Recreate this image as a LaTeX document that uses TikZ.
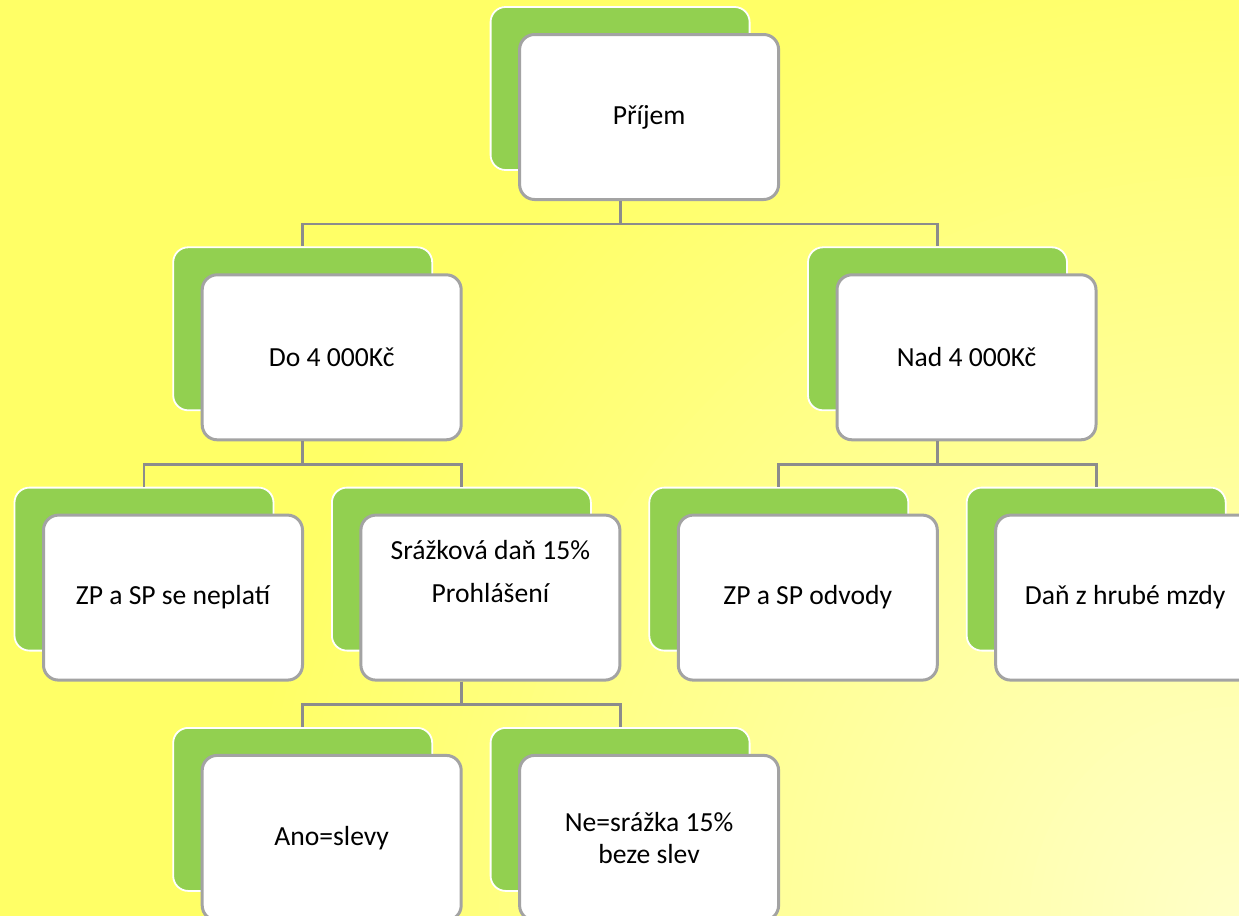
\documentclass[tikz,border=0pt]{standalone}
\usepackage{fontspec}
\setmainfont{Carlito}
\usetikzlibrary{calc}

\definecolor{bgbright}{RGB}{255,255,102}
\definecolor{bgpale}{RGB}{255,255,200}
\definecolor{leafgreen}{RGB}{146,208,80}
\definecolor{rimgray}{RGB}{163,163,163}
\definecolor{wiregray}{RGB}{140,140,140}

\begin{document}
\begin{tikzpicture}[x=0.5pt,y=-0.5pt,
        back/.style={draw=white,line width=0.9pt,fill=leafgreen,rounded corners=7.5pt,
            minimum width=129.5pt,minimum height=81.5pt,inner sep=0pt},
        card/.style={draw=rimgray,line width=1.5pt,fill=white,rounded corners=7.5pt,
            minimum width=129.5pt,minimum height=82.5pt,inner sep=0pt,align=center,
            font=\fontsize{13.8}{16}\selectfont},
        wire/.style={draw=wiregray,line width=1.4pt}]
                % background
                \useasboundingbox (0,0) rectangle (1239,916);
                \fill[bgbright] (0,0) rectangle (1239,916);
                \begin{scope}
                    \clip (0,0) rectangle (1239,916);
                    \foreach \i [evaluate=\i as \r using 1000-10.4*\i, evaluate=\i as \p using 1.04*\i] in {0,...,95}
                        {
                            \fill[bgpale!\p!bgbright] (1239,916) circle (\r);
                        }
                \end{scope}

                % boxes: name/column/row/text
                \foreach \nm/\cx/\ry/\txt in {top/3/0/Příjem, low/1/1/Do 4 000Kč, high/5/1/Nad 4 000Kč,
                        nopay/0/2/ZP a SP se neplatí,
                        wht/2/2/{Srážková daň 15\%\\[5.5pt]Prohlášení\\[5.5pt]\strut},
                        pay/4/2/ZP a SP odvody, gross/6/2/Daň z hrubé mzdy,
                        yes/1/3/Ano=slevy, no/3/3/{Ne=srážka 15\%\\beze slev}}
                    {
                        \node[back] (g-\nm) at ({144+158.7*\cx},{88.5+240.3*\ry}){};
                        \node[card] (\nm) at ($(g-\nm)+(29,28.5)$){\txt};
                    }

                % connectors
                \foreach \up/\dn in {top/low, top/high, low/nopay, low/wht, high/pay, high/gross, wht/yes, wht/no}
                    {
                        \draw[wire] (g-\up |- \up.south) -- ++(0,23) -| (g-\dn.north);
                    }
            \end{tikzpicture}
\end{document}
